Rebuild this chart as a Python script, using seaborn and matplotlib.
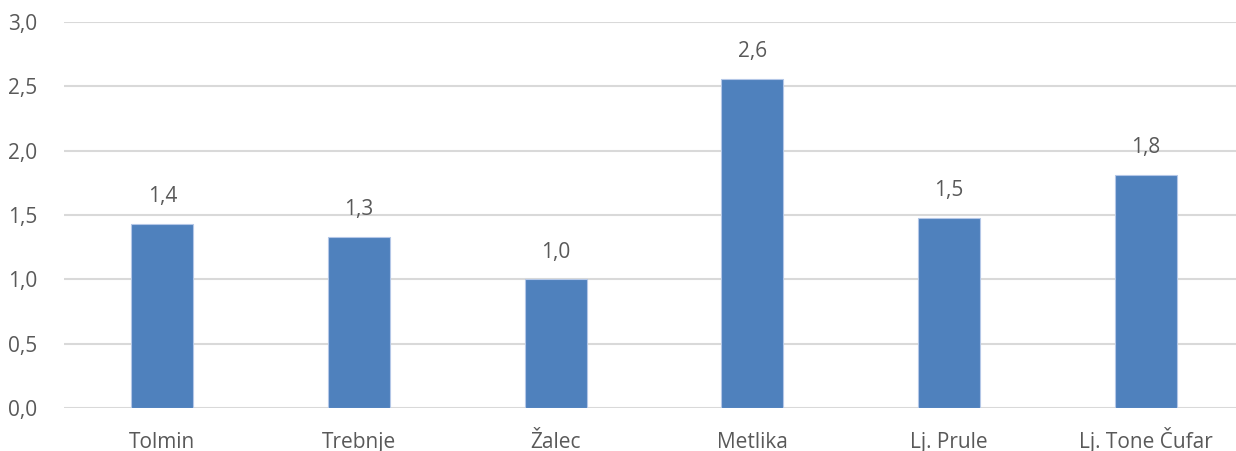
import matplotlib
matplotlib.use("Agg")
import matplotlib.pyplot as plt
import seaborn as sns
import pandas as pd

categories = ["Tolmin", "Trebnje", "Žalec", "Metlika", "Lj. Prule", "Lj. Tone Čufar"]
values = [1.43, 1.33, 1.00, 2.56, 1.48, 1.81]
yticks = [0.0, 0.5, 1.0, 1.5, 2.0, 2.5, 3.0]

sns.set_theme(style="white")
plt.rcParams["font.family"] = ["Open Sans", "DejaVu Sans"]

df = pd.DataFrame({"cat": categories, "val": values})

fig = plt.figure(figsize=(12.36, 4.51), dpi=100)
ax = fig.add_axes([64/1236, 1 - 408/451, 1180/1236, (408 - 22)/451])

sns.barplot(data=df, x="cat", y="val", ax=ax, color="#4f81bd", width=0.315,
            edgecolor="#b4c7e7", linewidth=0.8, saturation=1)

ax.set_ylim(0, 3.0)
ax.set_yticks(yticks)
ax.set_yticklabels([f"{t:.1f}".replace(".", ",") for t in yticks])
ax.yaxis.grid(True, color="#d9d9d9", linewidth=1.5)
ax.set_axisbelow(True)
for s in ax.spines.values():
    s.set_visible(False)
ax.set_xlabel("")
ax.set_ylabel("")
ax.tick_params(axis="both", length=0, labelsize=15, labelcolor="#595959")
ax.tick_params(axis="y", pad=19)
ax.tick_params(axis="x", pad=29)
for lbl in ax.get_xticklabels():
    lbl.set_va("baseline")

for i, v in enumerate(values):
    ax.annotate(f"{v:.1f}".replace(".", ","), (i, v), xytext=(0, 12),
                textcoords="offset points", ha="center", va="bottom",
                fontsize=15, color="#595959")

fig.savefig("out.png", dpi=100)
